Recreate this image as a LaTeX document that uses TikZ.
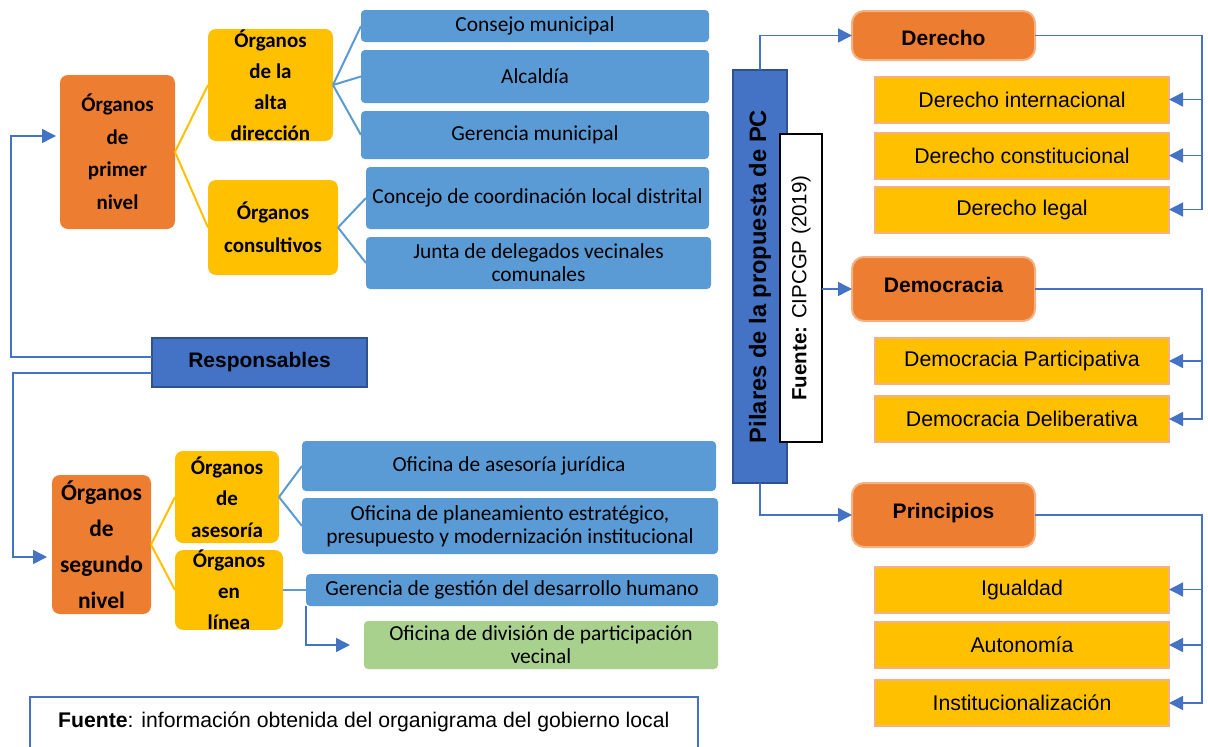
\documentclass[tikz,border=0pt]{standalone}
\usepackage{fontspec}
\usepackage{graphicx}
\setmainfont{Carlito}
\newfontfamily\arialf{Liberation Sans}
\usetikzlibrary{arrows.meta}

\definecolor{orgorange}{HTML}{ED7D31}
\definecolor{orgyellow}{HTML}{FFC000}
\definecolor{orgblue}{HTML}{5B9BD5}
\definecolor{orgdark}{HTML}{4472C4}
\definecolor{orgedge}{HTML}{2F528F}
\definecolor{orggreen}{HTML}{A9D18E}
\definecolor{orgpeach}{HTML}{F4B183}

\begin{document}
\begin{tikzpicture}[x=1pt,y=-1pt,
    caja/.style={inner sep=0pt, outer sep=0pt, align=center},
    organo/.style={caja, fill=orgorange, rounded corners=8pt, font=\bfseries\fontsize{21}{32.5}\selectfont},
    grupo/.style={caja, fill=orgyellow, rounded corners=8pt, font=\bfseries\fontsize{21}{32.5}\selectfont},
    oficina/.style={caja, fill=orgblue, rounded corners=4pt, font=\fontsize{21.4}{23}\selectfont},
    pilar/.style={caja, fill=orgorange, draw=orgpeach, line width=2pt, rounded corners=12pt,
        minimum width=183, minimum height=64, font=\arialf\bfseries\fontsize{21}{25}\selectfont},
    rama/.style={caja, fill=orgyellow, draw=orgpeach, line width=2pt,
        minimum width=294, minimum height=46, font=\arialf\fontsize{21.3}{25}\selectfont},
    fan/.style={line width=2pt},
    conn/.style={draw=orgdark, line width=1.5pt, -{Triangle[length=14pt,width=14pt]}}]

    \useasboundingbox[fill=white] (0,0) rectangle (1208,747);

    % Órganos de primer nivel
    \node[organo, minimum width=115, minimum height=154] (primer) at (117.5,152) {Órganos\\de\\primer\\nivel};
    \node[grupo, minimum width=125, minimum height=112, font=\bfseries\fontsize{21}{31}\selectfont] (alta) at (270.5,85) {Órganos\\de la\\alta\\dirección};
    \node[grupo, minimum width=130, minimum height=95] (consultivos) at (273,227.5) {Órganos\\consultivos};

    \node[oficina, minimum width=348, minimum height=32] (consejo) at (535,26) {Consejo municipal};
    \node[oficina, minimum width=348, minimum height=53] (alcaldia) at (535,76.5) {Alcaldía};
    \node[oficina, minimum width=348, minimum height=48] (gerencia) at (535,135) {Gerencia municipal};
    \node[oficina, minimum width=343, minimum height=62] (concejo) at (537.5,198) {Concejo de coordinación local distrital};
    \node[oficina, minimum width=345, minimum height=52] (junta) at (538.5,263) {Junta de delegados vecinales\\comunales};

    % Responsables
    \node[caja, fill=orgdark, draw=orgedge, line width=1.5pt, minimum width=215, minimum height=49,
        font=\arialf\bfseries\fontsize{21}{25}\selectfont] (responsables) at (259.5,362.5) {Responsables};

    % Órganos de segundo nivel
    \node[organo, minimum width=99, minimum height=139, font=\bfseries\fontsize{23.5}{36}\selectfont] (segundo) at (101.5,544.5) {Órganos\\de\\segundo\\nivel};
    \node[grupo, minimum width=104, minimum height=92, font=\bfseries\fontsize{21}{31.5}\selectfont] (asesoria) at (227,497) {Órganos\\de\\asesoría};
    \node[grupo, minimum width=108, minimum height=78, font=\bfseries\fontsize{21}{31}\selectfont] (enlinea) at (229,590) {Órganos\\en\\línea};

    \node[oficina, minimum width=414, minimum height=50] (juridica) at (509,466) {Oficina de asesoría jurídica};
    \node[oficina, minimum width=416, minimum height=56] (planeamiento) at (510,526) {Oficina de planeamiento estratégico,\\presupuesto y modernización institucional};
    \node[oficina, minimum width=412, minimum height=32] (desarrollo) at (512,590) {Gerencia de gestión del desarrollo humano};
    \node[oficina, fill=orggreen, minimum width=354, minimum height=48] (vecinal) at (541,645) {Oficina de división de participación\\vecinal};

    % Fuente (abajo)
    \node[caja, draw=orgdark, line width=2pt, minimum width=668, minimum height=73] (fuentebox) at (364,733.5) {};
    \node[anchor=base west, inner sep=0pt, font=\arialf\fontsize{21.2}{25}\selectfont] (fuentetxt) at (58,727) {\textbf{Fuente}: información obtenida del organigrama del gobierno local};

    % lineas del organigrama
    \draw[fan, orgyellow] (primer.east) -- (alta.west);
    \draw[fan, orgyellow] (primer.east) -- (consultivos.west);
    \foreach \n in {consejo,alcaldia,gerencia} \draw[fan, orgblue] (alta.east) -- (\n.west);
    \foreach \n in {concejo,junta} \draw[fan, orgblue] (consultivos.east) -- (\n.west);
    \draw[fan, orgyellow] (segundo.east) -- (asesoria.west);
    \draw[fan, orgyellow] (segundo.east) -- (enlinea.west);
    \foreach \n in {juridica,planeamiento} \draw[fan, orgblue] (asesoria.east) -- (\n.west);
    \draw[fan, orgblue] (enlinea.east) -- (desarrollo.west);
    \draw[conn, shorten >=14pt] (desarrollo.south west) |- (vecinal.west);

    % Responsables -> niveles
    \draw[conn, shorten >=4pt] ([yshift=5.5pt]responsables.west) -| ([xshift=-49pt,yshift=16pt]primer.west) -- ([yshift=16pt]primer.west);
    \draw[conn, shorten >=5pt] ([yshift=-10.5pt]responsables.west) -| ([xshift=-39pt,yshift=-12.5pt]segundo.west) -- ([yshift=-12.5pt]segundo.west);

    % Pilares de la propuesta
    \node[caja, fill=orgdark, draw=orgedge, line width=2pt, minimum width=54, minimum height=413,
        font=\arialf\bfseries\fontsize{23.7}{28}\selectfont] (pilares) at (760,276.5) {\rotatebox{90}{Pilares de la propuesta de PC}};
    \node[caja, draw=black, fill=white, line width=1.2pt, minimum width=42, minimum height=308,
        font=\arialf\fontsize{20.5}{24}\selectfont] (fuentepc) at (801,288) {\rotatebox{90}{\textbf{Fuente:} CIPCGP (2019)}};

    \node[pilar, minimum height=49, text height=20pt, text depth=0pt] (derecho) at (943.5,35.5) {Derecho};
    \node[pilar, text height=15.2pt, text depth=8.2pt] (democracia) at (943.5,289) {Democracia};
    \node[pilar, text height=15.2pt, text depth=8.2pt] (principios) at (943.5,515) {Principios};

    \node[rama] (dint) at (1022,99.5) {Derecho internacional};
    \node[rama] (dcons) at (1022,155.5) {Derecho constitucional};
    \node[rama] (dleg) at (1022,209.5) {Derecho legal};
    \node[rama] (dpart) at (1022,361) {Democracia Participativa};
    \node[rama] (ddelib) at (1022,419) {Democracia Deliberativa};
    \node[rama] (igual) at (1022,589.5) {Igualdad};
    \node[rama] (auton) at (1022,645) {Autonomía};
    \node[rama] (instit) at (1022,703) {Institucionalización};

    \draw[conn] (pilares.north) |- (derecho.west);
    \draw[conn] (fuentepc.east |- democracia.west) -- (democracia.west);
    \draw[conn] (pilares.south) |- (principios.west);

    % ramas a la derecha
    \coordinate (dbus) at (1202,0);
    \foreach \a/\b in {derecho/dleg, democracia/ddelib, principios/instit}
        \draw[conn] (\a.east) -| (dbus |- \b.east) -- (\b.east);
    \foreach \b in {dint,dcons,dpart,igual,auton}
        \draw[conn] (dbus |- \b.east) -- (\b.east);
\end{tikzpicture}
\end{document}
